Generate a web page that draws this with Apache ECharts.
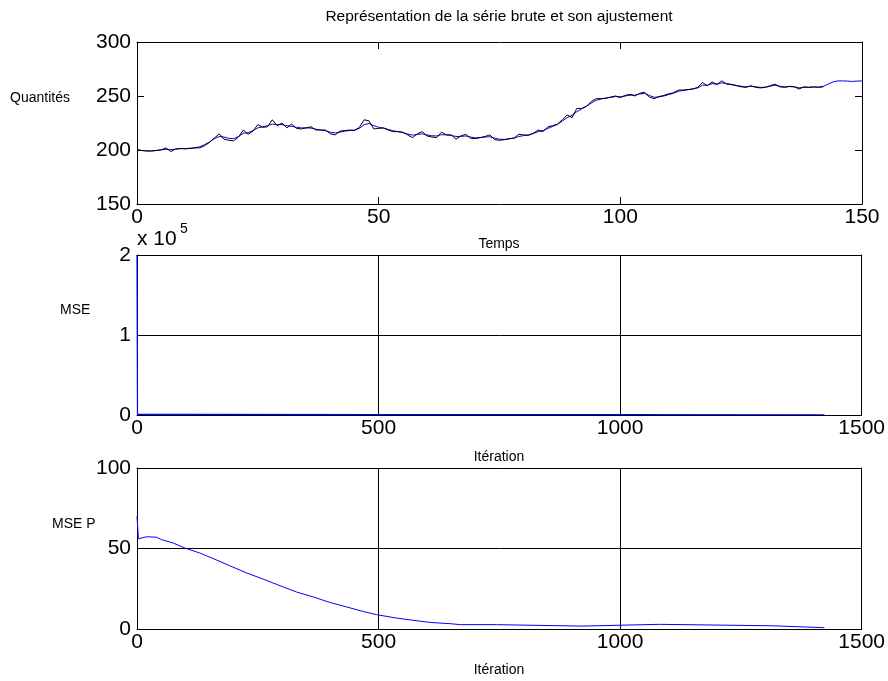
<!DOCTYPE html>
<html>
<head>
<meta charset="utf-8">
<script src="https://cdn.jsdelivr.net/npm/echarts@6/dist/echarts.min.js"></script>
<style>
  html, body { margin: 0; padding: 0; background: #fff; }
  #chart { width: 888px; height: 681px; }
</style>
</head>
<body>
<div id="chart"></div>
<script>
// Raw series (black), one value per time step starting at t = 0
const rawSeries = [
  200.5, 199.5, 199, 199, 199.5, 200, 202, 198.5, 201, 201.5,
  201, 201.5, 202, 202, 204, 207, 211, 215, 210, 209,
  208.5, 212, 218.5, 214.5, 217.5, 223.5, 221, 221.5, 228, 222.5,
  225, 220.5, 224, 220, 219.5, 220.5, 221.5, 218.5, 218.5, 218.5,
  215, 214, 217.5, 218, 218.5, 218, 221, 228, 227, 219.5,
  220, 220.5, 218.5, 217, 217, 216.5, 214, 211.5, 215, 217,
  213, 212, 211.5, 216.5, 214, 214, 210, 213, 214.5, 211,
  210.5, 211.5, 212.5, 214, 209.5, 209, 209.5, 210.5, 211, 214.5,
  214, 213.5, 215.5, 218.5, 217, 221.5, 222.5, 224, 228, 232.5,
  230, 238.5, 238.5, 240.5, 245, 247.5, 247.5, 248, 249, 250,
  248.5, 250.5, 251.5, 250, 252.5, 253.5, 249, 247.5, 249.5, 250.5,
  252, 253, 255.5, 255.5, 256, 256.5, 258, 262.5, 259.5, 263,
  260.5, 264, 261, 260.5, 259.5, 258.5, 258, 259.5, 258, 257.5,
  258, 259.5, 261, 258.5, 258, 259, 258.5, 256.5, 258.5, 258,
  258.5, 258, 258.5
];

// Fitted series (blue), t = 0 .. 150
const fittedSeries = [
  200, 199.5, 199.3, 199.3, 199.6, 200.2, 200.6, 200.3, 200.8, 201.2,
  201.4, 201.6, 202, 203, 205, 207.5, 210.5, 212.5, 212, 210.8,
  210.5, 212.5, 215.5, 216, 218, 220.5, 221.5, 222.5, 224, 223.5,
  223.5, 222.5, 222, 221, 220.5, 220.5, 220.3, 219.3, 218.5, 217.8,
  216.5, 215.8, 216.5, 217.5, 218, 218.5, 220, 223.5, 224.5, 222.5,
  221, 220.2, 219, 217.8, 217, 216, 214.8, 213.8, 214.3, 215,
  214, 213.2, 213, 214.2, 214, 213.5, 212.5, 212.6, 213, 212,
  211.3, 211.5, 212, 212.3, 211, 210, 209.8, 210.3, 211, 212.5,
  213.3, 214, 215.3, 217, 218, 220, 221.8, 223.8, 226.8, 230,
  232, 235.5, 238, 240.5, 243.5, 246, 247.3, 248, 248.8, 249.5,
  249.3, 250, 250.8, 250.8, 251.8, 252.5, 250.5, 248.8, 249.2, 250,
  251.3, 252.5, 254.3, 255.2, 255.8, 256.5, 257.5, 260, 260, 261.5,
  261, 262.2, 261.5, 260.8, 259.8, 259, 258.5, 259, 258.5, 258,
  258.2, 259, 260, 259, 258.5, 258.7, 258.5, 257.5, 258, 258,
  258.3, 258.3, 259, 261, 263, 264, 264, 263.8, 263.5, 263.8,
  264
];

// Training error (MSE) at selected iterations
const mseIterations = [0, 1, 100, 500, 1000, 1423];
const mseValues = [200000, 900, 700, 500, 400, 300];

// Validation error (MSE P) at selected iterations
const msePIterations = [
  0, 3, 20, 40, 51, 75, 99, 130, 158, 192, 227, 261, 296, 330, 365, 399,
  434, 468, 496, 537, 572, 606, 648, 670, 744, 745, 921, 922, 1081, 1082,
  1314, 1315, 1423
];
const msePValues = [
  70, 56, 57.3, 57, 55.5, 53.4, 50.3, 47.2, 43.7, 39.3, 34.8, 31, 26.9, 23, 19.9, 16.5,
  13.7, 10.9, 8.9, 6.8, 5.4, 4.1, 3.3, 2.7, 2.7, 1.8, 1.8, 2.9, 2.9, 2.0,
  2.0, 0.8, 0.8
];

// Tick labels
const timeTicks = [0, 50, 100, 150];
const quantityTicks = [150, 200, 250, 300];
const iterationTicks = [0, 500, 1000, 1500];
const mseTicks = [0, 1, 2];
const msePTicks = [0, 50, 100];

const FONT = 'Liberation Sans, Arial, Helvetica, sans-serif';
const TICK_FONT = 21;
const LABEL_FONT = 14;

const grids = [
  { left: 137, top: 42, width: 725, height: 162 },
  { left: 137, top: 255, width: 725, height: 160 },
  { left: 137, top: 468, width: 725, height: 161 }
];

function step(arr) { return arr[1] - arr[0]; }

function mainX(gridIndex, ticks, withGrid) {
  return {
    type: 'value', gridIndex, position: 'bottom',
    min: ticks[0], max: ticks[ticks.length - 1], interval: step(ticks),
    axisLine: { show: true, onZero: false, lineStyle: { color: '#000', width: 1 } },
    axisTick: { show: true, inside: true, length: 7, lineStyle: { color: '#000' } },
    axisLabel: {
      show: true, color: '#000', fontFamily: FONT, fontSize: TICK_FONT, margin: 3,
      formatter: v => String(v)
    },
    splitLine: { show: withGrid, lineStyle: { color: '#000', width: 1 } }
  };
}
function mirrorX(gridIndex, ticks) {
  return {
    type: 'value', gridIndex, position: 'top',
    min: ticks[0], max: ticks[ticks.length - 1], interval: step(ticks),
    axisLine: { show: true, onZero: false, lineStyle: { color: '#000', width: 1 } },
    axisTick: { show: true, inside: true, length: 7, lineStyle: { color: '#000' } },
    axisLabel: { show: false }, splitLine: { show: false }
  };
}
function mainY(gridIndex, ticks, withGrid, scale) {
  return {
    type: 'value', gridIndex, position: 'left',
    min: ticks[0] * scale, max: ticks[ticks.length - 1] * scale, interval: step(ticks) * scale,
    axisLine: { show: true, onZero: false, lineStyle: { color: '#000', width: 1 } },
    axisTick: { show: true, inside: true, length: 7, lineStyle: { color: '#000' } },
    axisLabel: {
      show: true, color: '#000', fontFamily: FONT, fontSize: TICK_FONT, margin: 6,
      formatter: v => String(Math.round(v / scale))
    },
    splitLine: { show: withGrid, lineStyle: { color: '#000', width: 1 } }
  };
}
function mirrorY(gridIndex, ticks, scale) {
  return {
    type: 'value', gridIndex, position: 'right',
    min: ticks[0] * scale, max: ticks[ticks.length - 1] * scale, interval: step(ticks) * scale,
    axisLine: { show: true, onZero: false, lineStyle: { color: '#000', width: 1 } },
    axisTick: { show: true, inside: true, length: 7, lineStyle: { color: '#000' } },
    axisLabel: { show: false }, splitLine: { show: false }
  };
}

function label(text, x, y, align, size) {
  return {
    type: 'text', x, y,
    style: {
      text, fill: '#000', font: size + 'px ' + FONT,
      textAlign: align, textVerticalAlign: 'middle'
    }
  };
}

const zip = (xs, ys) => xs.map((x, i) => [x, ys[i]]);

const chart = echarts.init(document.getElementById('chart'), null, { renderer: 'canvas' });

chart.setOption({
  animation: false,
  backgroundColor: '#fff',
  grid: grids.map(g => Object.assign({ show: false, containLabel: false }, g)),
  xAxis: [
    mainX(0, timeTicks, false),
    mainX(1, iterationTicks, true),
    mainX(2, iterationTicks, true),
    mirrorX(0, timeTicks),
    mirrorX(1, iterationTicks),
    mirrorX(2, iterationTicks)
  ],
  yAxis: [
    mainY(0, quantityTicks, false, 1),
    mainY(1, mseTicks, true, 100000),
    mainY(2, msePTicks, true, 1),
    mirrorY(0, quantityTicks, 1),
    mirrorY(1, mseTicks, 100000),
    mirrorY(2, msePTicks, 1)
  ],
  series: [
    {
      name: 'Ajustement', type: 'line', xAxisIndex: 0, yAxisIndex: 0,
      data: fittedSeries.map((v, t) => [t, v]),
      showSymbol: false, lineStyle: { color: '#0000ff', width: 1 }, z: 3
    },
    {
      name: 'Série brute', type: 'line', xAxisIndex: 0, yAxisIndex: 0,
      data: rawSeries.map((v, t) => [t, v]),
      showSymbol: false, lineStyle: { color: '#000', width: 1 }, z: 4
    },
    {
      name: 'MSE', type: 'line', xAxisIndex: 1, yAxisIndex: 1,
      data: zip(mseIterations, mseValues),
      showSymbol: false, lineStyle: { color: '#0000ff', width: 1.2 }, z: 4
    },
    {
      name: 'MSE P', type: 'line', xAxisIndex: 2, yAxisIndex: 2,
      data: zip(msePIterations, msePValues),
      showSymbol: false, lineStyle: { color: '#0000ff', width: 1 }, z: 4
    }
  ],
  graphic: [
    label('Représentation de la série brute et son ajustement', 499, 17, 'center', 15.5),
    label('Quantités', 10, 98, 'left', LABEL_FONT),
    label('Temps', 499, 244, 'center', LABEL_FONT),
    label('x 10', 137, 239, 'left', TICK_FONT),
    label('5', 180, 229, 'left', 14),
    label('MSE', 60, 310, 'left', LABEL_FONT),
    label('Itération', 499, 457, 'center', LABEL_FONT),
    label('MSE P', 52, 524, 'left', LABEL_FONT),
    label('Itération', 499, 670, 'center', LABEL_FONT)
  ]
});
</script>
</body>
</html>
